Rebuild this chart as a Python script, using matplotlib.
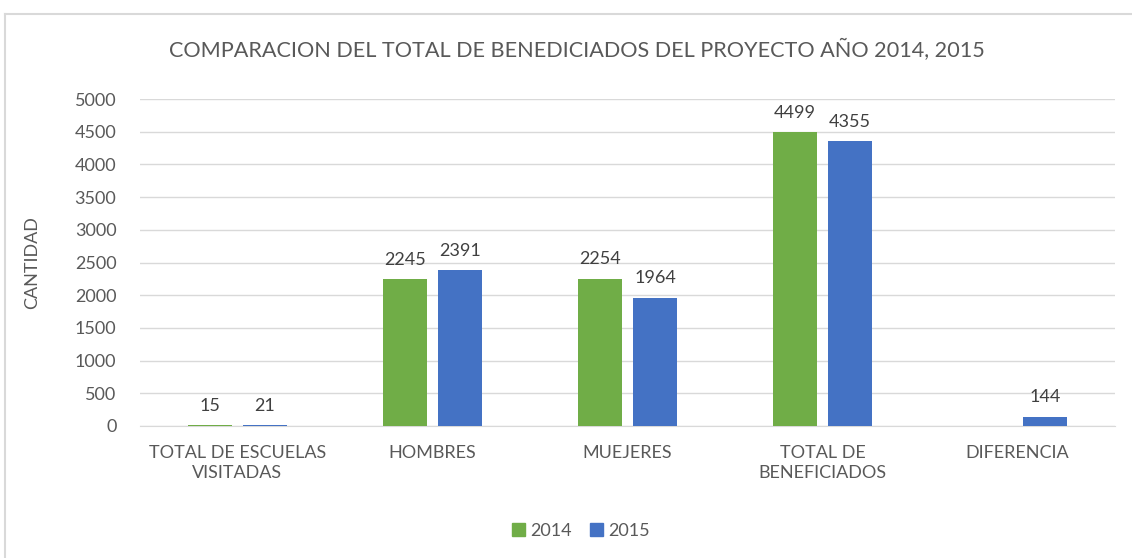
import matplotlib
matplotlib.use("Agg")
import matplotlib.pyplot as plt
from matplotlib.lines import Line2D
from matplotlib.patches import Patch
import numpy as np

categories = ["TOTAL DE ESCUELAS\nVISITADAS", "HOMBRES", "MUEJERES", "TOTAL DE\nBENEFICIADOS", "DIFERENCIA"]
values_2014 = [15, 2245, 2254, 4499, None]
values_2015 = [21, 2391, 1964, 4355, 144]
series_names = ["2014", "2015"]
yticks = [0, 500, 1000, 1500, 2000, 2500, 3000, 3500, 4000, 4500, 5000]

GREEN = "#70AD47"
BLUE = "#4472C4"
TEXT = "#595959"
GRID = "#D9D9D9"

plt.rcParams['font.family'] = ['Lato', 'DejaVu Sans']

fig = plt.figure(figsize=(11.32, 5.58), dpi=100)
ax = fig.add_axes([140/1132, 1-426/558, 975/1132, 327/558])

# outer chart frame
fig.add_artist(Line2D([5/1132, 5/1132], [0, 1-14/558], color=GRID, lw=1.5, transform=fig.transFigure))
fig.add_artist(Line2D([5/1132, 1], [1-14/558, 1-14/558], color=GRID, lw=1.5, transform=fig.transFigure))

x = np.arange(len(categories))
w = 0.226
off = 0.141
for vals, sign, color in [(values_2014, -1, GREEN), (values_2015, 1, BLUE)]:
    xs = [xi + sign*off for xi, v in zip(x, vals) if v is not None]
    hs = [v for v in vals if v is not None]
    bars = ax.bar(xs, hs, width=w, color=color, zorder=3)
    for b, v in zip(bars, hs):
        ax.annotate(str(v), (b.get_x() + b.get_width()/2, b.get_height()),
                    xytext=(0, 8), textcoords="offset points", ha="center", va="bottom",
                    fontsize=13, color="#404040")

ax.set_xlim(-0.5, 4.5)
ax.set_ylim(0, 5000)
ax.set_yticks(yticks)
ax.yaxis.grid(True, color=GRID, lw=1, zorder=0)
ax.set_axisbelow(True)
for s in ["top", "right", "left"]:
    ax.spines[s].set_visible(False)
ax.spines["bottom"].set_color(GRID)
ax.tick_params(axis="both", length=0, labelsize=13, labelcolor=TEXT)
ax.tick_params(axis="y", pad=17)
ax.tick_params(axis="x", pad=14)
ax.set_xticks(x)
ax.set_xticklabels(categories, linespacing=1.25)
ax.set_ylabel("CANTIDAD", fontsize=13, color=TEXT, labelpad=25)

fig.text(577/1132, 1-50/558, "COMPARACION DEL TOTAL DE BENEDICIADOS DEL PROYECTO AÑO 2014, 2015",
         ha="center", va="center", fontsize=15.6, color=TEXT)

handles = [Patch(color=GREEN), Patch(color=BLUE)]
fig.legend(handles, series_names, loc="center", bbox_to_anchor=(581/1132, 1-531/558), ncol=2,
           frameon=False, fontsize=13, labelcolor=TEXT, handlelength=0.7, handleheight=0.7,
           handletextpad=0.3, columnspacing=1.0)

fig.savefig("out.png", dpi=100)
